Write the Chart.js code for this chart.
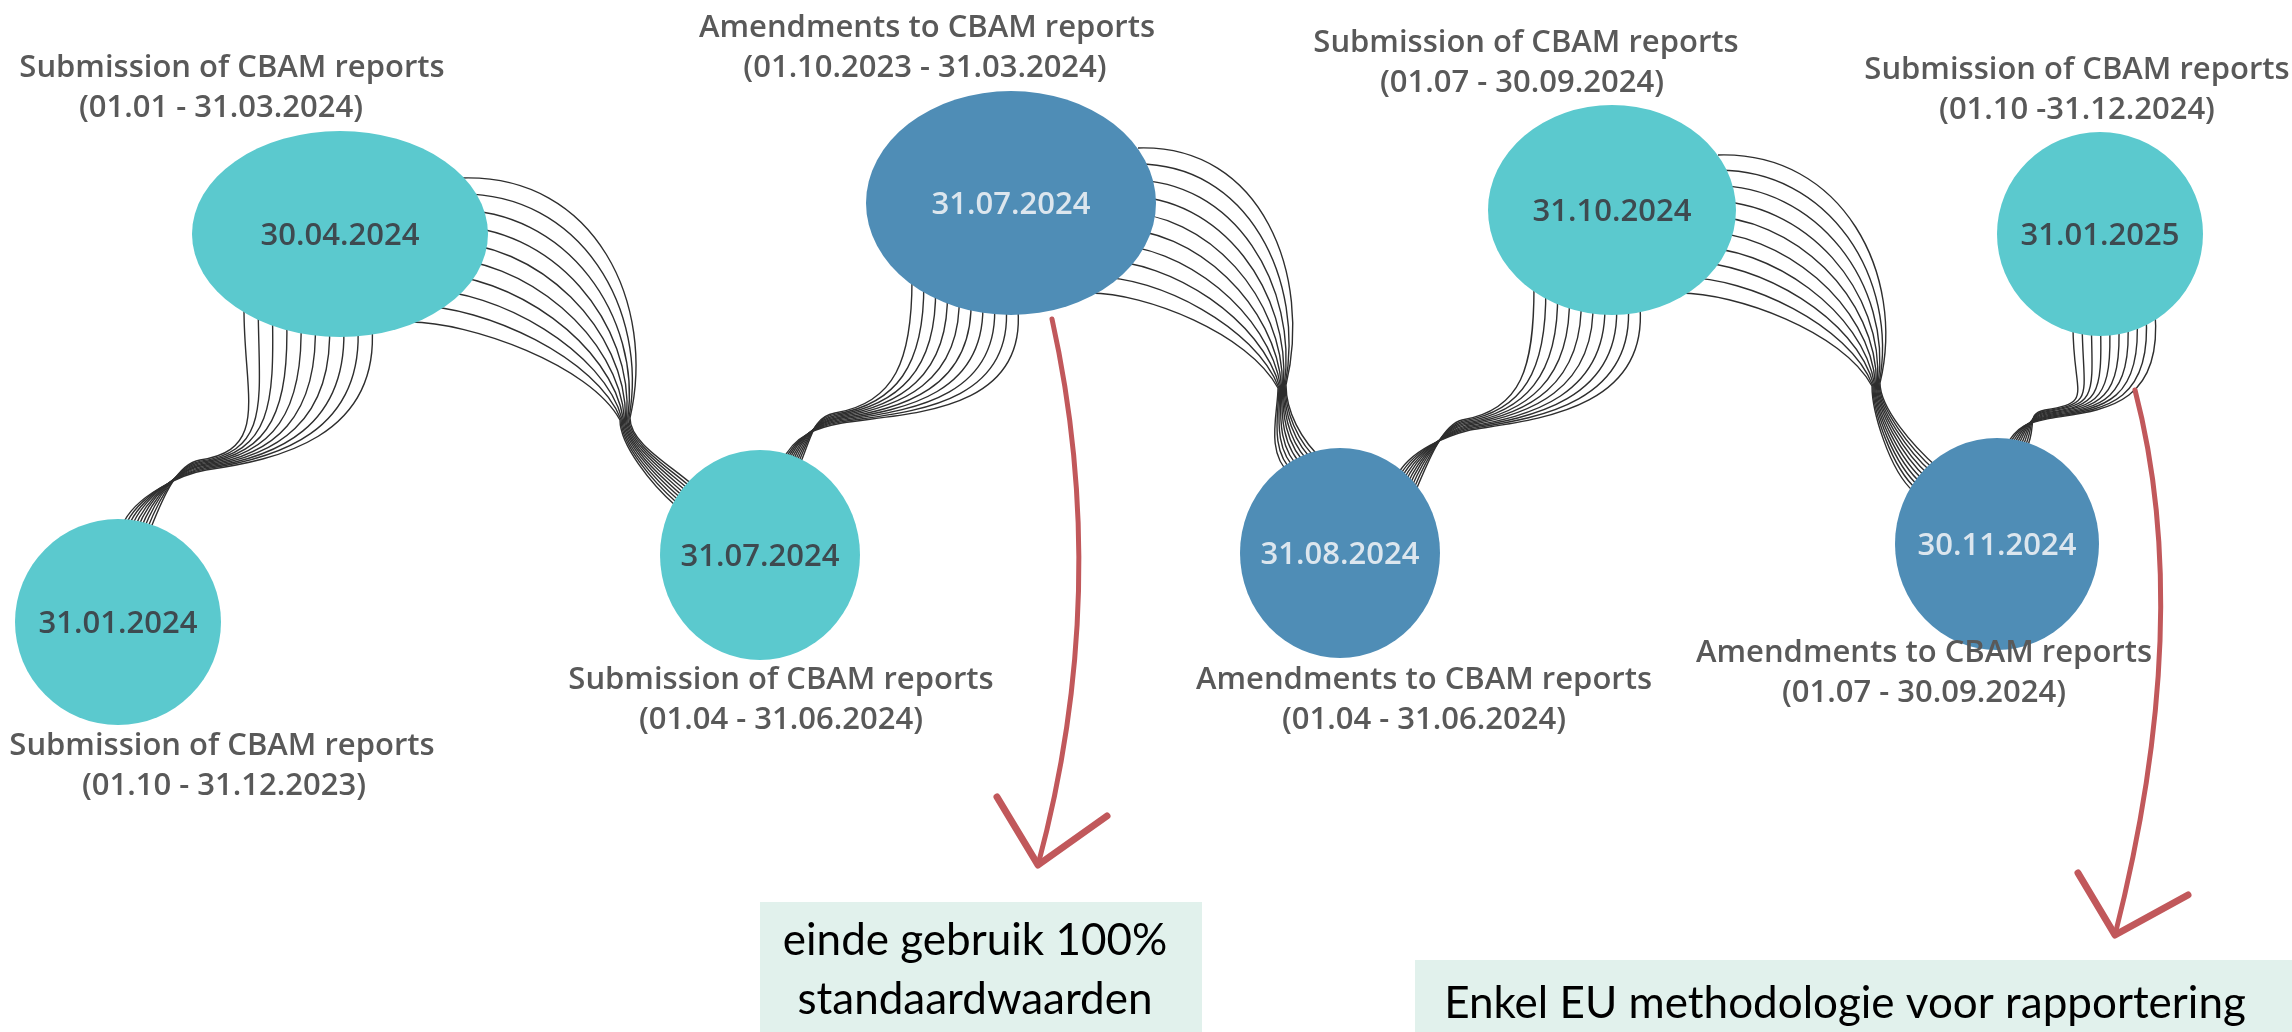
<!DOCTYPE html>
<html>
<head>
<meta charset="utf-8">
<script src="https://cdn.jsdelivr.net/npm/chart.js@4.4.0/dist/chart.umd.min.js"></script>
<style>
  html, body { margin: 0; padding: 0; background: #fff; }
  canvas { display: block; }
</style>
</head>
<body>
<canvas id="grafico" width="2292" height="1032"></canvas>
<script>
// Datos de la linea de tiempo (fechas limite CBAM)
const fechas = ['31.01.2024', '30.04.2024', '31.07.2024', '31.07.2024', '31.08.2024', '31.10.2024', '30.11.2024', '31.01.2025'];
const tipos = ['sub', 'sub', 'sub', 'amend', 'amend', 'sub', 'amend', 'sub'];
const titulos = [
  'Submission of CBAM reports',
  'Submission of CBAM reports',
  'Submission of CBAM reports',
  'Amendments to CBAM reports',
  'Amendments to CBAM reports',
  'Submission of CBAM reports',
  'Amendments to CBAM reports',
  'Submission of CBAM reports'
];
const periodos = [
  '(01.10 - 31.12.2023)',
  '(01.01 - 31.03.2024)',
  '(01.04 - 31.06.2024)',
  '(01.10.2023 - 31.03.2024)',
  '(01.04 - 31.06.2024)',
  '(01.07 - 30.09.2024)',
  '(01.07 - 30.09.2024)',
  '(01.10 -31.12.2024)'
];
const notas = [['einde gebruik 100%', 'standaardwaarden'], ['Enkel EU methodologie voor rapportering']];

// Disposicion (unidades del grafico, 0..2292 x 0..1032)
const nodoX = [118, 340, 760, 1011, 1340, 1612, 1997, 2100];
const nodoY = [622, 234, 555, 203, 553, 210, 544, 234];
const nodoRx = [103, 148, 100, 145, 100, 124, 102, 103];
const nodoRy = [103, 103, 105, 112, 105, 105, 106, 102];
const tituloX = [222, 232, 781, 927, 1424, 1526, 1924, 2077];
const periodoX = [224, 221, 781, 925, 1424, 1522, 1924, 2077];
const etiquetaY = [746, 68, 680, 28, 680, 43, 653, 70];

// cintas de lineas: inicio (s), asa inicial (hs), cuello (m), asa del cuello (hmIn/hmOut), fin (e), asa final (he)
const cintas = [
  { s: [[244, 310], [372, 326]], hs: [[0, 85], [8, 112]], m: [[200, 460], [206, 470]], hmIn: [[-70, 10], [-70, 10]], hmOut: [-24, 4], e: [[150, 530], [122, 526]], he: [12, -30] },
  { s: [[462, 178], [410, 322]], hs: [[135, -4], [60, 0]], m: [[630, 418], [620, 420]], hmIn: [[-26, 112], [30, 55]], hmOut: [0, 25], e: [[694, 486], [676, 506]], he: [-25, -22] },
  { s: [[912, 280], [1018, 310]], hs: [[0, 80], [8, 105]], m: [[835, 413], [842, 423]], hmIn: [[-60, 10], [-60, 10]], hmOut: [-22, 4], e: [[800, 464], [782, 462]], he: [12, -28] },
  { s: [[1138, 148], [1090, 293]], hs: [[125, -4], [55, 0]], m: [[1286, 385], [1278, 388]], hmIn: [[-26, 108], [30, 55]], hmOut: [0, 25], e: [[1325, 462], [1290, 474]], he: [-25, -22] },
  { s: [[1534, 287], [1640, 307]], hs: [[0, 80], [8, 105]], m: [[1462, 420], [1470, 430]], hmIn: [[-60, 10], [-60, 10]], hmOut: [-20, 5], e: [[1416, 490], [1396, 478]], he: [12, -28] },
  { s: [[1718, 155], [1680, 293]], hs: [[125, -4], [55, 0]], m: [[1880, 383], [1872, 386]], hmIn: [[-26, 108], [30, 55]], hmOut: [0, 25], e: [[1938, 468], [1914, 492]], he: [-25, -22] },
  { s: [[2073, 326], [2155, 312]], hs: [[0, 70], [8, 95]], m: [[2045, 410], [2052, 418]], hmIn: [[-50, 8], [-50, 8]], hmOut: [-20, 4], e: [[2026, 450], [2005, 448]], he: [12, -25] }
];
const nLineas = 10;

const flechas = [
  { ini: [1052, 319], ctl: [1112, 590], punta: [1038, 865], brazos: [[997, 797], [1107, 816]] },
  { ini: [2135, 390], ctl: [2195, 620], punta: [2115, 935], brazos: [[2078, 873], [2188, 895]] }
];
const cajas = [
  { x0: 760, y0: 902, x1: 1202, y1: 1032, tx: 975, ty: [941, 1000] },
  { x0: 1415, y0: 960, x1: 2292, y1: 1032, tx: 1845, ty: [1004] }
];

const colores = { sub: '#5BC9CE', amend: '#4F8DB6' };
const colorTexto = { sub: '#3E4A50', amend: '#DCE6EE' };

const dibujo = {
  id: 'dibujo',
  beforeDatasetsDraw(chart) {
    const ctx = chart.ctx, sx = chart.scales.x, sy = chart.scales.y;
    const px = v => sx.getPixelForValue(v), py = v => sy.getPixelForValue(v);
    const P = p => [px(p[0]), py(p[1])];
    ctx.save();

    // cajas de notas
    cajas.forEach(c => {
      ctx.fillStyle = '#E1F1EC';
      ctx.fillRect(px(c.x0), py(c.y0), px(c.x1) - px(c.x0), py(c.y1) - py(c.y0));
    });

    // cintas
    ctx.strokeStyle = '#2e2e2e';
    ctx.lineWidth = 1.4;
    cintas.forEach(c => {
      for (let i = 0; i < nLineas; i++) {
        const t = i / (nLineas - 1);
        const L = seg => [seg[0][0] + (seg[1][0] - seg[0][0]) * t, seg[0][1] + (seg[1][1] - seg[0][1]) * t];
        const s = L(c.s), h = L(c.hs), m = L(c.m), hi = L(c.hmIn), e = L(c.e);
        const a = P([s[0] + h[0], s[1] + h[1]]);
        const b = P([m[0] - hi[0], m[1] - hi[1]]);
        const d = P([m[0] + c.hmOut[0], m[1] + c.hmOut[1]]);
        const f = P([e[0] + c.he[0], e[1] + c.he[1]]);
        const S = P(s), M = P(m), E = P(e);
        ctx.beginPath();
        ctx.moveTo(S[0], S[1]);
        ctx.bezierCurveTo(a[0], a[1], b[0], b[1], M[0], M[1]);
        ctx.bezierCurveTo(d[0], d[1], f[0], f[1], E[0], E[1]);
        ctx.stroke();
      }
    });

    // nodos (elipses)
    const meta = chart.getDatasetMeta(0);
    meta.data.forEach((pt, i) => {
      const rx = px(nodoX[i] + nodoRx[i]) - px(nodoX[i]);
      const ry = Math.abs(py(nodoY[i] + nodoRy[i]) - py(nodoY[i]));
      ctx.beginPath();
      ctx.ellipse(pt.x, pt.y, rx, ry, 0, 0, Math.PI * 2);
      ctx.fillStyle = colores[tipos[i]];
      ctx.fill();
      ctx.fillStyle = colorTexto[tipos[i]];
      ctx.font = '600 31px "Open Sans"';
      ctx.textAlign = 'center';
      ctx.textBaseline = 'middle';
      ctx.fillText(fechas[i], pt.x, pt.y + 2);
    });
    ctx.restore();
  },
  afterDatasetsDraw(chart) {
    const ctx = chart.ctx, sx = chart.scales.x, sy = chart.scales.y;
    const px = v => sx.getPixelForValue(v), py = v => sy.getPixelForValue(v);
    ctx.save();

    // etiquetas
    ctx.fillStyle = '#595959';
    ctx.textAlign = 'center';
    ctx.textBaseline = 'middle';
    ctx.font = '600 31px "Open Sans"';
    titulos.forEach((t, i) => {
      ctx.fillText(t, px(tituloX[i]), py(etiquetaY[i]));
      ctx.fillText(periodos[i], px(periodoX[i]), py(etiquetaY[i] + 40));
    });

    // flechas rojas
    ctx.strokeStyle = '#C1585B';
    ctx.lineCap = 'round';
    ctx.lineJoin = 'round';
    flechas.forEach(f => {
      ctx.lineWidth = 5;
      ctx.beginPath();
      ctx.moveTo(px(f.ini[0]), py(f.ini[1]));
      ctx.quadraticCurveTo(px(f.ctl[0]), py(f.ctl[1]), px(f.punta[0]), py(f.punta[1]));
      ctx.stroke();
      ctx.lineWidth = 7;
      ctx.beginPath();
      ctx.moveTo(px(f.brazos[0][0]), py(f.brazos[0][1]));
      ctx.lineTo(px(f.punta[0]), py(f.punta[1]));
      ctx.lineTo(px(f.brazos[1][0]), py(f.brazos[1][1]));
      ctx.stroke();
    });

    // texto de notas
    ctx.fillStyle = '#000';
    ctx.font = '400 44px Lato';
    cajas.forEach((c, i) => {
      notas[i].forEach((linea, j) => ctx.fillText(linea, px(c.tx), py(c.ty[j])));
    });
    ctx.restore();
  }
};

const ctx = document.getElementById('grafico').getContext('2d');
new Chart(ctx, {
  type: 'scatter',
  data: {
    datasets: [{
      label: 'Fechas CBAM',
      data: nodoX.map((x, i) => ({ x: x, y: nodoY[i] })),
      pointRadius: 0,
      pointHoverRadius: 0
    }]
  },
  options: {
    responsive: false,
    devicePixelRatio: 1,
    animation: false,
    layout: { padding: 0 },
    scales: {
      x: { type: 'linear', min: 0, max: 2292, display: false },
      y: { type: 'linear', min: 0, max: 1032, reverse: true, display: false }
    },
    plugins: { legend: { display: false }, tooltip: { enabled: false } }
  },
  plugins: [dibujo]
});
</script>
</body>
</html>
